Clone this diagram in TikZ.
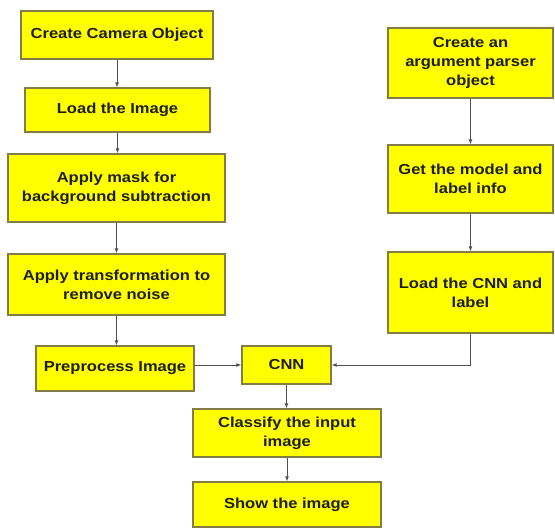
\documentclass[tikz,border=0pt]{standalone}
\usepackage{fontspec}
\setmainfont{Liberation Sans}[FakeStretch=1.14]
\usetikzlibrary{arrows.meta}
\definecolor{boxfill}{RGB}{255,255,0}
\definecolor{boxline}{RGB}{130,125,70}
\definecolor{txt}{RGB}{30,30,25}
\definecolor{arr}{RGB}{80,80,80}
\tikzset{
  stepbox/.style={draw=boxline, fill=boxfill, line width=1.3pt, inner sep=0pt,
    align=center, text=txt, font=\fontsize{14.5}{19}\selectfont\bfseries},
  conn/.style={draw=arr, line width=0.9pt, -{Latex[length=5pt,width=4pt]}}
}
\begin{document}
\begin{tikzpicture}[x=1pt,y=-1pt]
\useasboundingbox (0,0) rectangle (555,529);
\node[stepbox, minimum width=192pt, minimum height=48pt] (cam) at (117,35) {Create Camera Object};
\node[stepbox, minimum width=185pt, minimum height=44pt] (load) at (117.5,110) {Load the Image};
\node[stepbox, minimum width=217pt, minimum height=68pt] (mask) at (116.5,188) {Apply mask for\\background subtraction};
\node[stepbox, minimum width=217pt, minimum height=61pt] (trans) at (116.5,284.5) {Apply transformation to\\remove noise};
\node[stepbox, minimum width=158pt, minimum height=45pt] (prep) at (115,368.5) {Preprocess Image};
\node[stepbox, minimum width=89pt, minimum height=38pt] (cnn) at (286.5,365) {CNN};
\node[stepbox, minimum width=188pt, minimum height=48pt] (cls) at (287,433) {Classify the input\\image};
\node[stepbox, minimum width=188pt, minimum height=45pt] (show) at (287,504.5) {Show the image};
\node[stepbox, minimum width=165pt, minimum height=70pt] (arg) at (470.5,63) {Create an\\argument parser\\object};
\node[stepbox, minimum width=165pt, minimum height=68pt] (model) at (470.5,179) {Get the model and\\label info};
\node[stepbox, minimum width=165pt, minimum height=81pt] (lcnn) at (470.5,292.5) {Load the CNN and\\label};
\draw[conn] (cam.south) -- (cam.south |- load.north);
\draw[conn] (load.south) -- (load.south |- mask.north);
\draw[conn] (mask.south) -- (trans.north);
\draw[conn] (trans.south) -- (trans.south |- prep.north);
\draw[conn] (prep.east |- cnn.west) -- (cnn.west);
\draw[conn] (cnn.south) -- (cnn.south |- cls.north);
\draw[conn] (cls.south) -- (show.north);
\draw[conn] (arg.south) -- (model.north);
\draw[conn] (model.south) -- (lcnn.north);
\draw[conn] (lcnn.south) -- (lcnn.south |- cnn.east) -- (cnn.east);
\end{tikzpicture}
\end{document}
